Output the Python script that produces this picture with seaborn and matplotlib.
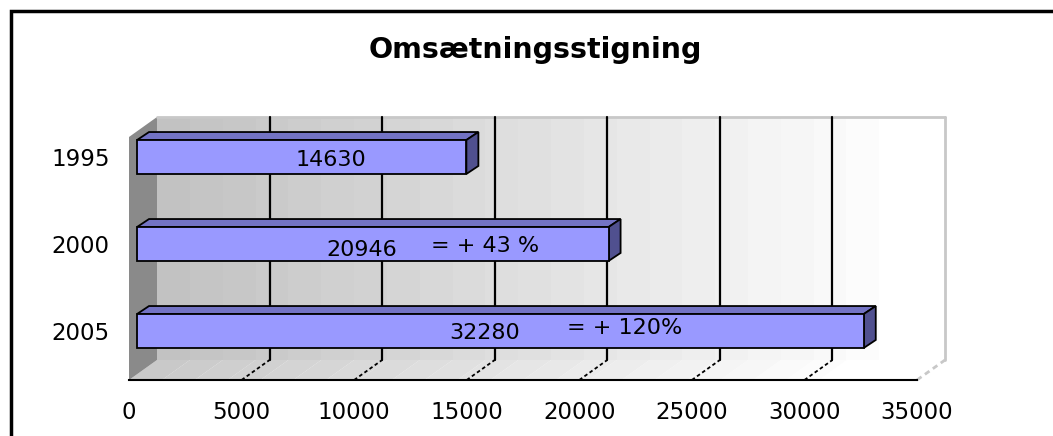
import matplotlib.pyplot as plt
import matplotlib.patches as mpatches
import pandas as pd
import seaborn as sns

years = ["1995", "2000", "2005"]
turnover = [14630, 20946, 32280]
change_labels = ["", "= + 43 %", "= + 120%"]

# layout (pixels of the 1053x436 canvas turned into data units)
W, H = 1053, 436
X_MAX = 35000
PX_X = X_MAX / 788
PX_Y = 1 / 87
DEPTH_X, DEPTH_Y = 28 * PX_X, 20 * PX_Y     # front plane -> back wall
BAR_SHIFT = 8 * PX_X                         # bars sit a bit behind the front plane
BAR_DX, BAR_DY = 12 * PX_X, 8 * PX_Y        # bar depth
Y_BOT, Y_TOP = 223 * PX_Y, -40 * PX_Y

value_x = [8970, 10350, 15810]
value_dy = [0.04, 0.07, 0.02]
change_x = [0, 13400, 19450]
change_dy = [0, 0.02, -0.04]

sns.set_style("white")
plt.rcParams['font.family'] = ['DejaVu Sans']
plt.rcParams['text.color'] = 'black'

fig = plt.figure(figsize=(W / 100, H / 100), dpi=100)
ax = fig.add_axes([129 / W, 56 / H, 788 / W, 263 / H])
ax.patch.set_visible(False)

df = pd.DataFrame({"year": years, "turnover": turnover})

# back wall and floor, stepped grey gradient like the original
n = 24
band = X_MAX / n
for i in range(n):
    x0 = band * i
    shade = min(1.0, 0.76 + 0.25 * i / (n - 1))
    ax.add_patch(mpatches.Rectangle(
        (x0 + DEPTH_X, Y_BOT - DEPTH_Y), band + 5, Y_TOP - (Y_BOT - DEPTH_Y),
        facecolor=(shade,) * 3, edgecolor='none', clip_on=False, zorder=0))
    fshade = min(1.0, 0.79 + 0.23 * i / (n - 1))
    ax.add_patch(mpatches.Polygon(
        [(x0, Y_BOT), (x0 + band + 5, Y_BOT),
         (x0 + band + 5 + DEPTH_X, Y_BOT - DEPTH_Y), (x0 + DEPTH_X, Y_BOT - DEPTH_Y)],
        facecolor=(fshade,) * 3, edgecolor='none', clip_on=False, zorder=0))

# left wall
ax.add_patch(mpatches.Polygon(
    [(0, Y_BOT), (0, Y_TOP + DEPTH_Y), (DEPTH_X, Y_TOP), (DEPTH_X, Y_BOT - DEPTH_Y)],
    facecolor='#8a8a8a', edgecolor='none', clip_on=False, zorder=0))

# wall outline
wall_kw = dict(color='#c8c8c8', lw=2, clip_on=False, zorder=1)
ax.plot([DEPTH_X, X_MAX + DEPTH_X], [Y_TOP, Y_TOP], **wall_kw)
ax.plot([X_MAX + DEPTH_X, X_MAX + DEPTH_X], [Y_TOP, Y_BOT - DEPTH_Y], **wall_kw)
ax.plot([X_MAX, X_MAX + DEPTH_X], [Y_BOT, Y_BOT - DEPTH_Y], ls=(0, (2, 1.5)), **wall_kw)

# gridlines on the back wall + dashed floor lines
ticks = list(range(0, X_MAX + 1, 5000))
for t in ticks[1:-1]:
    ax.plot([t + DEPTH_X] * 2, [Y_BOT - DEPTH_Y, Y_TOP], color='black', lw=1.6,
            clip_on=False, zorder=1)
    ax.plot([t, t + DEPTH_X], [Y_BOT, Y_BOT - DEPTH_Y], color='black', lw=1.3,
            ls=(0, (2, 1.5)), clip_on=False, zorder=1)

n_before = len(ax.patches)
sns.barplot(data=df, x="turnover", y="year", orient="h", color="#9999ff",
            saturation=1, width=0.39, edgecolor="black", linewidth=1.3,
            ax=ax, zorder=3)
bars = list(ax.patches)[n_before:]

# fake the 3d look: top and side face of each bar
for p in bars:
    p.set_x(p.get_x() + BAR_SHIFT)
    x0, w, y0, h = p.get_x(), p.get_width(), p.get_y(), p.get_height()
    x1 = x0 + w
    top = [(x0, y0), (x1, y0), (x1 + BAR_DX, y0 - BAR_DY), (x0 + BAR_DX, y0 - BAR_DY)]
    side = [(x1, y0), (x1 + BAR_DX, y0 - BAR_DY), (x1 + BAR_DX, y0 + h - BAR_DY), (x1, y0 + h)]
    ax.add_patch(mpatches.Polygon(top, facecolor='#7373c4', edgecolor='black',
                                  lw=1.3, zorder=2.9, clip_on=False))
    ax.add_patch(mpatches.Polygon(side, facecolor='#50508f', edgecolor='black',
                                  lw=1.3, zorder=2.9, clip_on=False))

for i, (v, c) in enumerate(zip(turnover, change_labels)):
    ax.text(value_x[i], i + value_dy[i], str(v), ha='center', va='center',
            fontsize=16, zorder=5)
    if c:
        ax.text(change_x[i], i + change_dy[i], c, ha='left', va='center',
                fontsize=16, zorder=5)

ax.set_xlim(0, X_MAX)
ax.set_ylim(Y_BOT, Y_TOP)
ax.set_xticks(ticks)
ax.set_xticklabels([str(t) for t in ticks])
ax.set_xlabel("")
ax.set_ylabel("")
for s in ["top", "right", "left"]:
    ax.spines[s].set_visible(False)
ax.spines["bottom"].set_color("black")
ax.spines["bottom"].set_linewidth(1.5)
ax.spines["bottom"].set_zorder(4)
ax.tick_params(axis="x", length=3, width=1.2, color="black", pad=12,
               labelsize=16.5, labelcolor="black")
ax.tick_params(axis="y", length=0, pad=14, labelsize=16.5, labelcolor="black")

fig.text(535 / W, 1 - 50 / H, "Omsætningsstigning", ha="center", va="center",
         fontsize=20.5, fontweight="bold", color="black")

# chart frame, right and bottom edges fall outside the picture
fig.add_artist(mpatches.Rectangle((11 / W, -0.5), 2, 1.5 - 11 / H,
                                  transform=fig.transFigure, fill=False,
                                  edgecolor="black", lw=2.5))

fig.savefig("out.png", dpi=100)
